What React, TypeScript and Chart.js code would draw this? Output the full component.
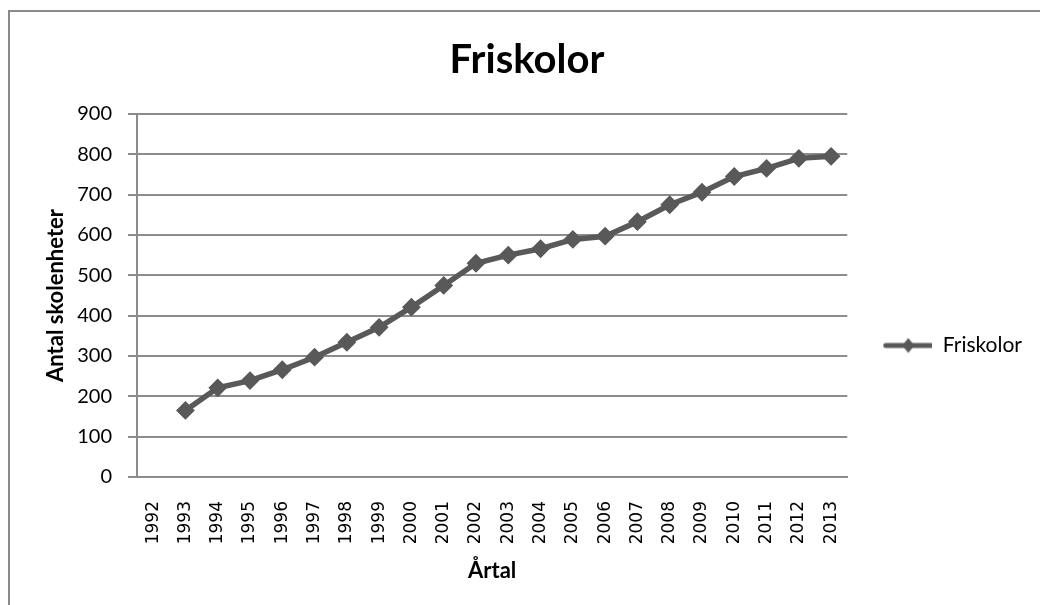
import React, { useEffect, useRef } from "react";
import { Chart, registerables } from "chart.js";

Chart.register(...registerables);

const categories = [
  "1992", "1993", "1994", "1995", "1996", "1997", "1998", "1999", "2000", "2001", "2002",
  "2003", "2004", "2005", "2006", "2007", "2008", "2009", "2010", "2011", "2012", "2013",
];

const friskolor: (number | null)[] = [
  null, 165, 221, 239, 266, 297, 334, 371, 421, 475, 530,
  550, 566, 589, 597, 633, 675, 706, 745, 765, 790, 795,
];

const yMin = 0;
const yMax = 900;
const yStep = 100;

const seriesName = "Friskolor";
const chartTitle = "Friskolor";
const xTitle = "Årtal";
const yTitle = "Antal skolenheter";

const LINE = "#595959";
const GRID = "#8c8c8c";

function makeLegendIcon(): HTMLCanvasElement {
  const c = document.createElement("canvas");
  c.width = 75;
  c.height = 20;
  const ctx = c.getContext("2d")!;
  ctx.strokeStyle = LINE;
  ctx.fillStyle = LINE;
  ctx.lineWidth = 5;
  ctx.lineCap = "round";
  ctx.beginPath();
  ctx.moveTo(28.5, 10);
  ctx.lineTo(73.5, 10);
  ctx.stroke();
  ctx.beginPath();
  ctx.moveTo(51, 2.5);
  ctx.lineTo(57, 10);
  ctx.lineTo(51, 17.5);
  ctx.lineTo(45, 10);
  ctx.closePath();
  ctx.fill();
  return c;
}

export default function App() {
  const ref = useRef<HTMLCanvasElement>(null);

  useEffect(() => {
    if (!ref.current) return;
    const icon = makeLegendIcon();
    const chart = new Chart(ref.current, {
      type: "line",
      data: {
        labels: categories,
        datasets: [
          {
            label: seriesName,
            data: friskolor,
            borderColor: LINE,
            backgroundColor: LINE,
            borderWidth: 5.5,
            tension: 0,
            pointStyle: "rectRot",
            pointRadius: 8,
            pointBorderWidth: 2,
            pointBackgroundColor: LINE,
            pointBorderColor: LINE,
          },
        ],
      },
      options: {
        responsive: false,
        animation: false,
        layout: { padding: { left: 22, right: 8, top: 0, bottom: 0 } },
        plugins: {
          tooltip: { enabled: false },
          title: {
            display: true,
            text: chartTitle,
            color: "#000",
            font: { family: "Lato", size: 40, weight: "bold" },
            padding: { top: 36, bottom: 30 },
          },
          legend: {
            position: "right",
            align: "start",
            title: {
              display: true,
              text: "",
              font: { family: "Lato", size: 20 },
              padding: { top: 0, bottom: 301 },
            },
            labels: {
              usePointStyle: true,
              pointStyleWidth: 75,
              padding: 10,
              color: "#000",
              font: { family: "Lato", size: 21 },
              generateLabels: (ch: any) =>
                (Chart.defaults.plugins.legend.labels as any)
                  .generateLabels(ch)
                  .map((l: any) => ({ ...l, pointStyle: icon })),
            },
          },
        },
        scales: {
          x: {
            type: "category",
            offset: true,
            grid: { display: false, drawTicks: false, tickLength: 0 },
            border: { display: true, color: GRID, width: 2 },
            afterFit: (s: any) => {
              s.height = 128;
            },
            ticks: {
              autoSkip: false,
              maxRotation: 90,
              minRotation: 90,
              padding: 24,
              color: "#000",
              font: { family: "DejaVu Sans", size: 17 },
            },
            title: {
              display: true,
              text: xTitle,
              color: "#000",
              font: { family: "Lato", size: 22, weight: "bold" },
              padding: { top: 10, bottom: 21 },
            },
          },
          y: {
            min: yMin,
            max: yMax,
            afterFit: (s: any) => {
              s.width = 115;
            },
            grid: { color: GRID, lineWidth: 2, tickLength: 9, drawTicks: true },
            border: { display: true, color: GRID, width: 2 },
            ticks: {
              stepSize: yStep,
              padding: 16,
              color: "#000",
              font: { family: "Lato", size: 20 },
            },
            title: {
              display: true,
              text: yTitle,
              color: "#000",
              font: { family: "Lato", size: 22, weight: "bold" },
              padding: { top: 21, bottom: 6 },
            },
          },
        },
      },
    } as any);
    return () => chart.destroy();
  }, []);

  return (
    <div
      style={{
        position: "fixed",
        left: 0,
        top: 0,
        width: 1040,
        height: 605,
        background: "#fff",
        overflow: "hidden",
      }}
    >
      <div
        style={{
          position: "absolute",
          left: 8,
          top: 10,
          width: 1100,
          height: 700,
          borderLeft: "2px solid #898989",
          borderTop: "2px solid #898989",
        }}
      />
      <canvas
        ref={ref}
        width={1040}
        height={605}
        style={{ position: "absolute", left: 0, top: 0, width: 1040, height: 605 }}
      />
    </div>
  );
}
